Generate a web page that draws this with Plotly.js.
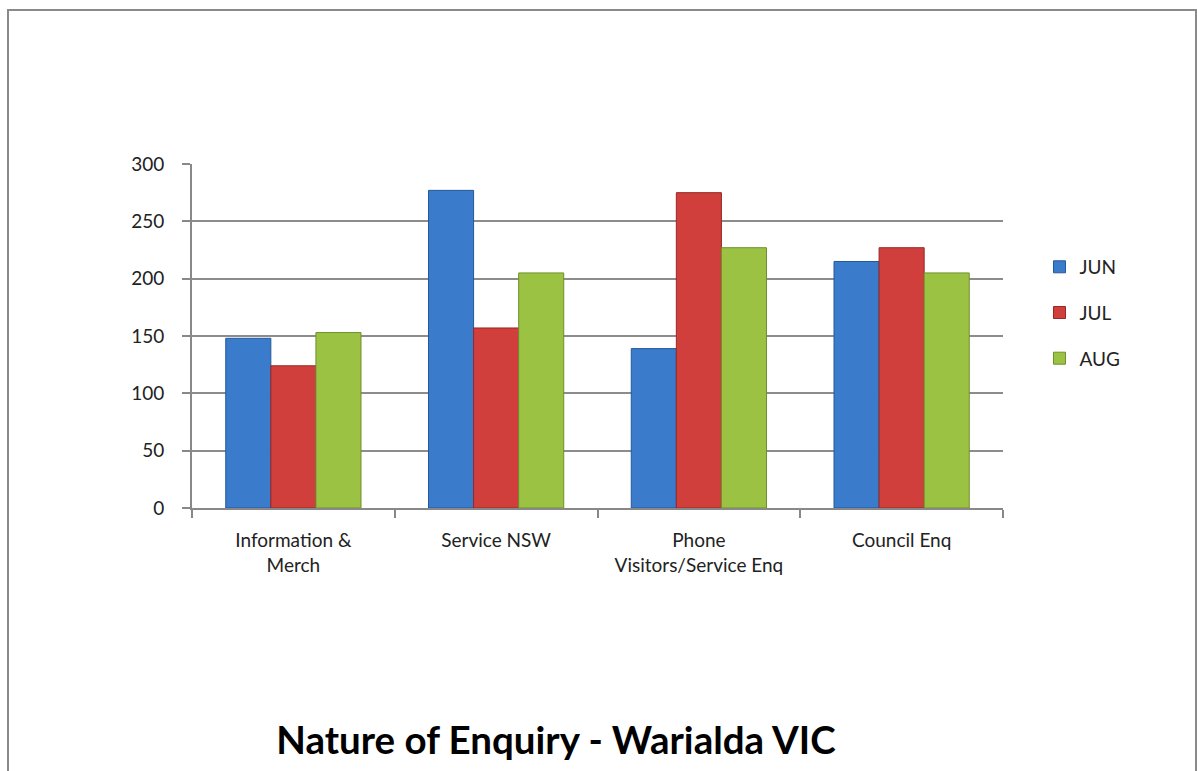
<!DOCTYPE html>
<html>
<head>
<meta charset="utf-8">
<script src="https://cdn.plot.ly/plotly-3.0.1.min.js"></script>
<style>
  body { margin: 0; background: #fff; }
  #frame {
    position: absolute; left: 7px; top: 9px; width: 1186px; height: 800px;
    border: 2px solid #8a8a8a; pointer-events: none;
  }
</style>
</head>
<body>
<div id="chart" style="width:1197px;height:771px;"></div>
<div id="frame"></div>
<script>
// categories and monthly enquiry counts
var categories = ["Information &<br>Merch", "Service NSW", "Phone<br>Visitors/Service Enq", "Council Enq"];
var jun = [148, 277, 139, 215];
var jul = [124, 157, 275, 227];
var aug = [153, 205, 227, 205];
var yTicks = [0, 50, 100, 150, 200, 250, 300];

var font = "Lato, 'Open Sans', sans-serif";

function series(name, vals, fill, edge) {
  return {
    type: "bar", name: name, x: categories, y: vals,
    legendgroup: name,
    marker: {color: fill, line: {color: edge, width: 1}}
  };
}

var data = [
  series("JUN", jun, "#3a7bcc", "#25589a"),
  series("JUL", jul, "#d03f3c", "#962826"),
  series("AUG", aug, "#9cc244", "#6f8f2c")
];

var layout = {
  width: 1197, height: 771,
  margin: {l: 192, r: 194, t: 164, b: 263},
  paper_bgcolor: "#fff", plot_bgcolor: "#fff",
  font: {family: font, size: 19, color: "#222"},
  barmode: "group", bargap: 0.333, bargroupgap: 0,
  showlegend: true,
  legend: {x: 1.045, y: 0.567, xanchor: "left", yanchor: "middle",
           font: {size: 19}, tracegroupgap: 18, itemwidth: 30},
  title: {
    text: "<b>Nature of Enquiry - Warialda VIC</b>",
    font: {family: font, size: 38.5, color: "#000"},
    xref: "container", yref: "container", x: 0.4645, y: 0.04,
    xanchor: "center", yanchor: "middle"
  },
  xaxis: {
    type: "category", showline: true, linecolor: "#888", linewidth: 2,
    ticks: "outside", tickson: "boundaries", ticklen: 8, tickcolor: "#888", tickwidth: 2,
    showgrid: false, ticklabelstandoff: 14
  },
  yaxis: {
    range: [0, 300], tickvals: yTicks, showline: true, linecolor: "#888", linewidth: 2,
    ticks: "outside", ticklen: 8, tickcolor: "#888", tickwidth: 2,
    gridcolor: "#8c8c8c", gridwidth: 2, zeroline: false, ticklabelstandoff: 14
  }
};

Plotly.newPlot("chart", data, layout, {displayModeBar: false});
</script>
</body>
</html>
